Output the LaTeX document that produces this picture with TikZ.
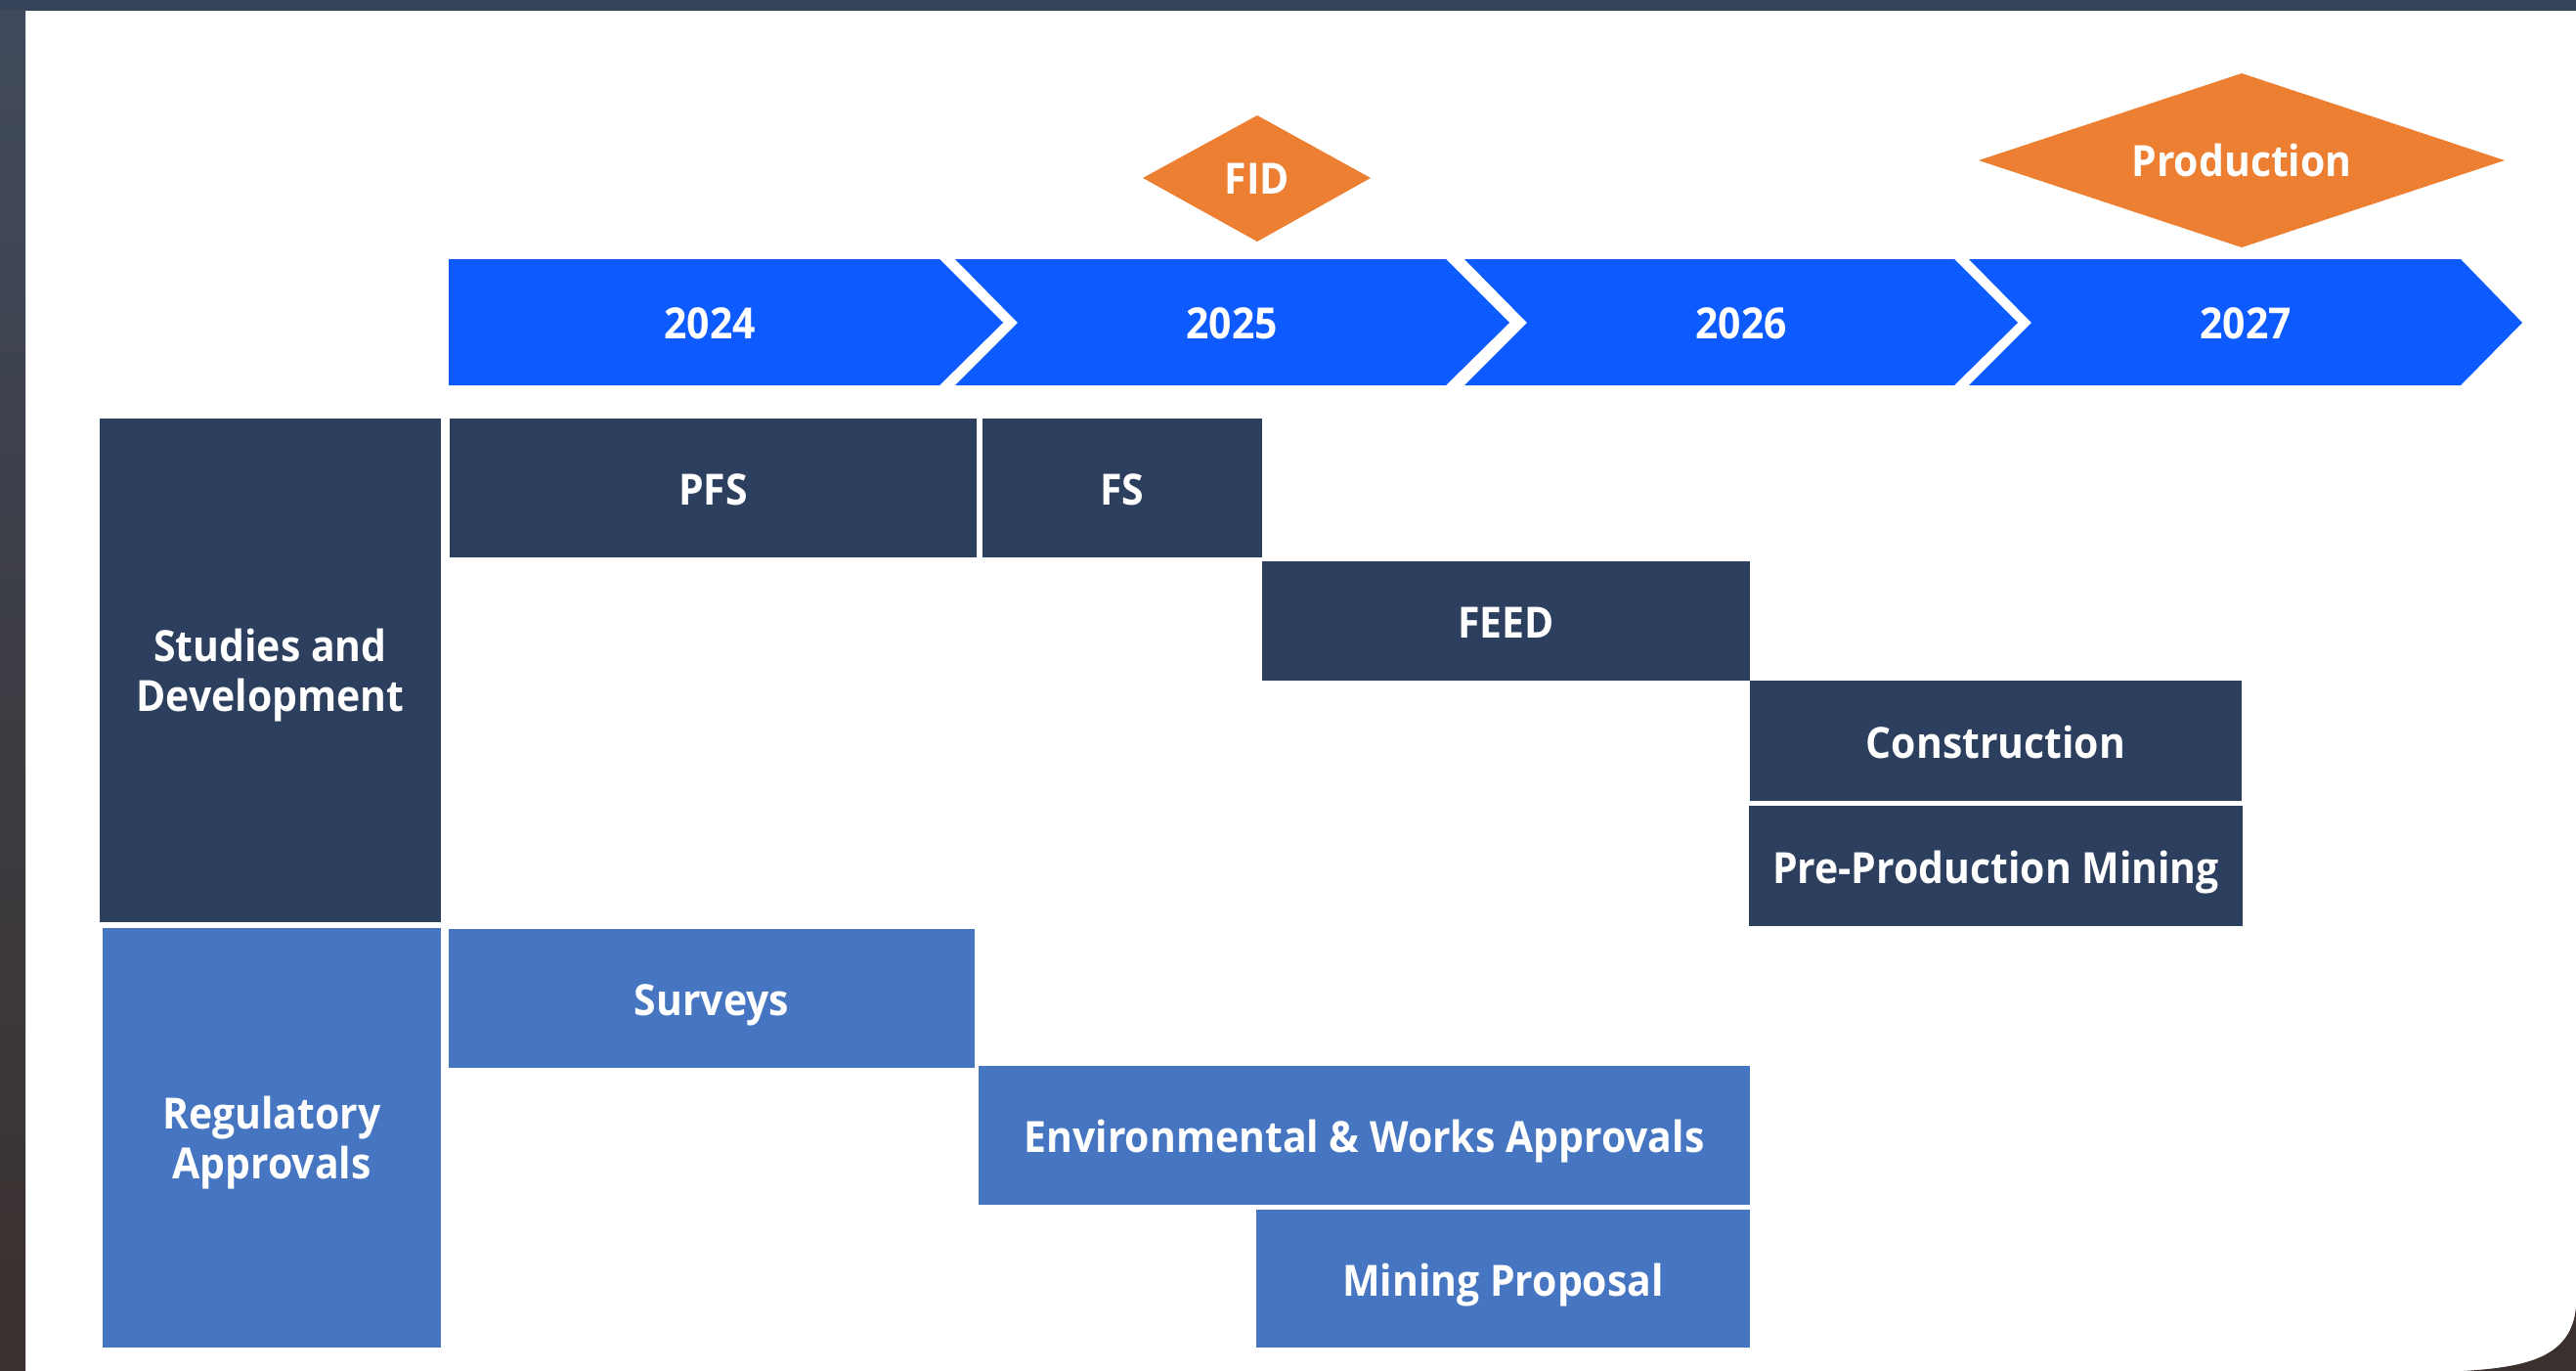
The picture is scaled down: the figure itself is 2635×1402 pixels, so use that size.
\documentclass[tikz,border=0pt]{standalone}
\usepackage{fontspec}
\setmainfont{Open Sans}[FakeStretch=0.93]
\definecolor{navy}{HTML}{2D3F5F}
\definecolor{lblue}{HTML}{4676C2}
\definecolor{chev}{HTML}{0D5AFF}
\definecolor{orng}{HTML}{ED7F33}
\definecolor{bgtop}{HTML}{36445A}
\definecolor{bgleft}{HTML}{404A5C}
\definecolor{bgdark}{HTML}{3A302D}
\begin{document}
\begin{tikzpicture}[x=1pt,y=-1pt,
  txt/.style={text=white, font=\bfseries\fontsize{44}{51}\selectfont, inner sep=0pt, outer sep=0pt},
  box/.style={txt, anchor=north west, align=center},
  one/.style={text height=31pt, text depth=0pt},
  onebox/.style={text height=35pt, text depth=0pt},
  navybox/.style={box, fill=navy},
  bluebox/.style={box, fill=lblue}]
\useasboundingbox (0,0) rectangle (2635,1402);
% slide background
\fill[bgtop] (0,0) rectangle (2635,11);
\shade[top color=bgleft, bottom color=bgdark] (0,11) rectangle (26,1402);
\fill[bgdark] (2635,1337) .. controls (2630,1388) and (2585,1398) .. (2520,1402) -- (2635,1402) -- cycle;
% chevrons
\fill[chev] (459,265) -- (961,265) -- (1026,330) -- (961,394) -- (459,394) -- cycle;
\fill[chev] (977,265) -- (1479,265) -- (1544,330) -- (1479,394) -- (977,394) -- (1041,330) -- cycle;
\fill[chev] (1498,265) -- (1999,265) -- (2064,330) -- (1999,394) -- (1498,394) -- (1562,330) -- cycle;
\fill[chev] (2014,265) -- (2517,265) -- (2580,330) -- (2517,394) -- (2014,394) -- (2078,330) -- cycle;
\node[txt, one] (y2024) at (726,331) {2024};
\node[txt, one] (y2025) at (1260,331) {2025};
\node[txt, one] (y2026) at (1781,331) {2026};
\node[txt, one] (y2027) at (2297,331) {2027};
% milestones
\fill[orng] (1169,182) -- (1286,118) -- (1402,182) -- (1286,247) -- cycle;
\node[txt, one] (fid) at (1286,183) {FID};
\fill[orng] (2024,164) -- (2293,75) -- (2562,164) -- (2293,253) -- cycle;
\node[txt, one] (prod) at (2293,165) {Production};
% rows
\node[navybox, minimum width=349, minimum height=515] (studies) at (102,428) {};
\node[txt, align=center] (studiestxt) at ([yshift=-5pt]studies.center) {Studies and\\Development};
\node[bluebox, minimum width=346, minimum height=429] (reg) at (105,949) {};
\node[txt, align=center] (regtxt) at ([yshift=-5pt]reg.center) {Regulatory\\Approvals};
\node[navybox, onebox, minimum width=539, minimum height=142] (pfs) at (460,428) {PFS};
\node[navybox, onebox, minimum width=286, minimum height=142] (fs) at (1005,428) {FS};
\node[navybox, onebox, minimum width=499, minimum height=122] (feed) at (1291,574) {FEED};
\node[navybox, onebox, minimum width=503, minimum height=123] (constr) at (1790,696) {Construction};
\node[navybox, onebox, minimum width=505, minimum height=123] (premine) at (1789,824) {Pre-Production Mining};
\node[bluebox, onebox, minimum width=538, minimum height=142] (surveys) at (459,950) {Surveys};
\node[bluebox, onebox, minimum width=789, minimum height=142] (env) at (1001,1090) {Environmental \& Works Approvals};
\node[bluebox, onebox, minimum width=505, minimum height=141] (minprop) at (1285,1237) {Mining Proposal};
\end{tikzpicture}
\end{document}
